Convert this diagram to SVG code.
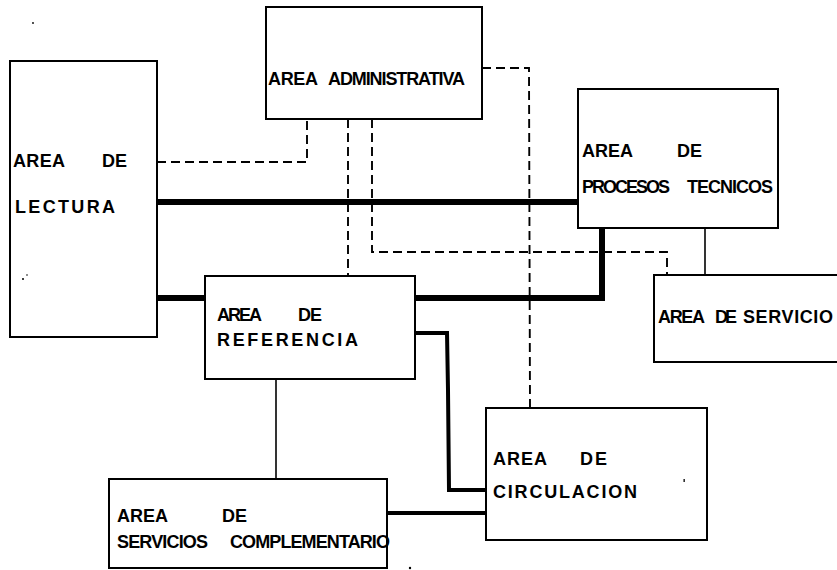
<svg xmlns="http://www.w3.org/2000/svg" width="837" height="570" viewBox="0 0 837 570">
<style>
.box{fill:none;stroke:#000;stroke-width:2}
.lbl{font-family:"Liberation Sans",Arial,sans-serif;font-weight:bold;font-size:18px;fill:#000}
.thin{fill:none;stroke:#000;stroke-width:1.6}
.thick{fill:none;stroke:#000;stroke-width:6}
.med{fill:none;stroke:#000;stroke-width:4}
.dash{fill:none;stroke:#000;stroke-width:1.9;stroke-dasharray:9 5}
</style>
<rect width="837" height="570" fill="#fff"/>
<g id="connectors">
<path class="dash" d="M157,162 H307 V119"/>
<path class="thick" d="M157,202 H578"/>
<path class="dash" d="M348,119 V276"/>
<path class="dash" d="M372,119 V252 H667 V275"/>
<path class="dash" d="M482,68 H529 L530,408"/>
<path class="thick" d="M157,298 H205"/>
<path class="thick" d="M415,298 H602 V228"/>
<path class="thin" d="M705,228 V275"/>
<path class="med" d="M415,333 H447 L448,390 L449,490 H486"/>
<path class="thin" d="M276,379 V479"/>
<path class="med" d="M387,513 H486"/>
</g>
<g id="lectura">
<rect class="box" x="10" y="61" width="147" height="276"/>
<text class="lbl"><tspan x="13" y="167" textLength="52">AREA</tspan><tspan x="102" y="167" textLength="25">DE</tspan></text>
<text class="lbl" x="15" y="213" textLength="100" lengthAdjust="spacing">LECTURA</text>
</g>
<g id="administrativa">
<rect class="box" x="266" y="7" width="216" height="112"/>
<text class="lbl" font-size="16.5"><tspan x="268" y="85" textLength="50">AREA</tspan><tspan x="328" y="85" textLength="137">ADMINISTRATIVA</tspan></text>
</g>
<g id="procesos">
<rect class="box" x="578" y="89" width="200" height="139"/>
<text class="lbl"><tspan x="582" y="157" textLength="51">AREA</tspan><tspan x="677" y="157" textLength="25">DE</tspan></text>
<text class="lbl"><tspan x="582" y="193" textLength="88">PROCESOS</tspan><tspan x="687" y="193" textLength="86">TECNICOS</tspan></text>
</g>
<g id="servicio">
<path class="box" d="M837,275 H654 V362 H837"/>
<text class="lbl"><tspan x="658" y="323" textLength="47">AREA</tspan><tspan x="715" y="323" textLength="22">DE</tspan><tspan x="743" y="323" textLength="90">SERVICIO</tspan></text>
</g>
<g id="referencia">
<rect class="box" x="205" y="276" width="210" height="103"/>
<text class="lbl"><tspan x="217" y="321" textLength="45">AREA</tspan><tspan x="298" y="321" textLength="24">DE</tspan></text>
<text class="lbl" x="217" y="346" textLength="141" lengthAdjust="spacing">REFERENCIA</text>
</g>
<g id="circulacion">
<rect class="box" x="486" y="408" width="221" height="132"/>
<text class="lbl"><tspan x="493" y="465" textLength="54">AREA</tspan><tspan x="580" y="465" textLength="27">DE</tspan></text>
<text class="lbl" x="493" y="498" textLength="144" lengthAdjust="spacing">CIRCULACION</text>
</g>
<g id="complementario">
<rect class="box" x="109" y="479" width="278" height="89"/>
<text class="lbl"><tspan x="117" y="522" textLength="51">AREA</tspan><tspan x="222" y="522" textLength="25">DE</tspan></text>
<text class="lbl"><tspan x="117" y="548" textLength="91">SERVICIOS</tspan><tspan x="230" y="548" textLength="160">COMPLEMENTARIO</tspan></text>
</g>
<g id="specks" fill="#000">
<circle cx="33" cy="23" r="0.9"/>
<circle cx="23" cy="279" r="1"/>
<circle cx="27" cy="275" r="0.8"/>
<rect x="683.5" y="479" width="1.3" height="3"/>
<circle cx="410" cy="568" r="1.2"/>
</g>
</svg>
